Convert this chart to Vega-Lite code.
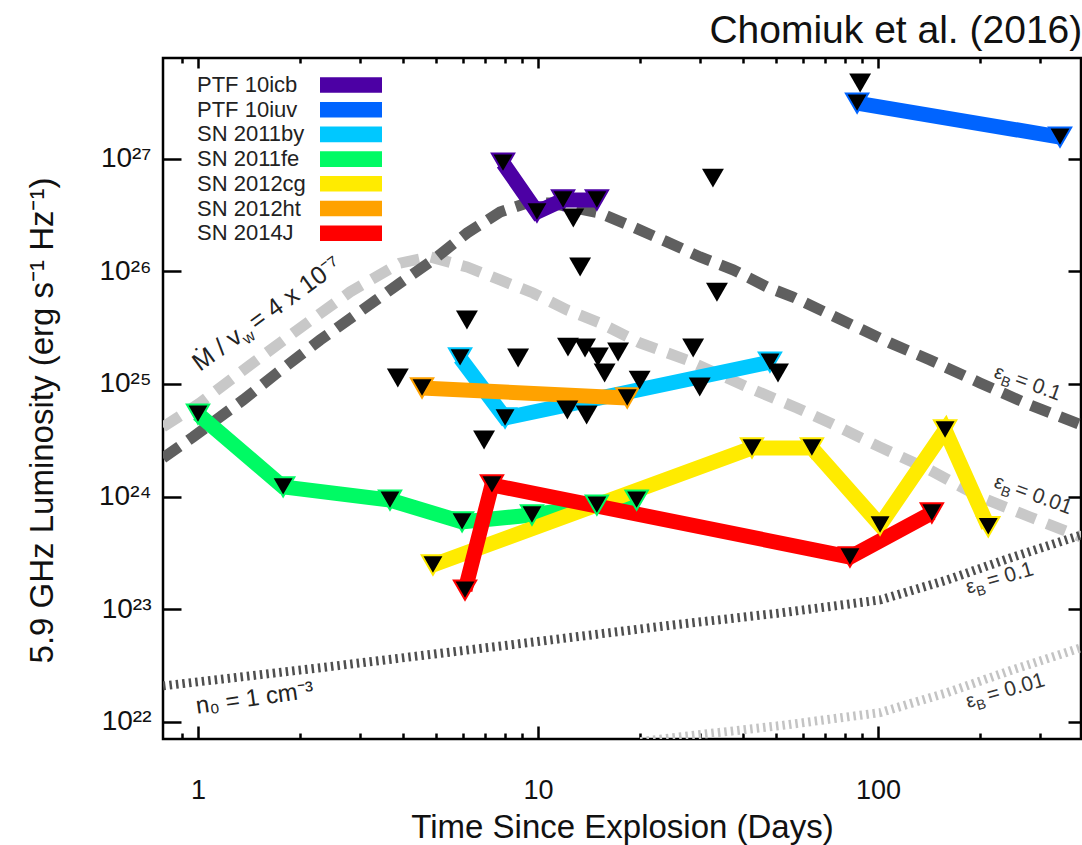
{
  "$schema": "https://vega.github.io/schema/vega-lite/v6.json",
  "width": 918,
  "height": 681,
  "autosize": {"type": "none"},
  "padding": {"left": 163, "top": 58, "right": 1, "bottom": 106},
  "background": "white",
  "config": {
    "font": "Liberation Sans",
    "view": {"stroke": "black", "strokeWidth": 2.5},
    "axis": {"grid": false, "domain": false, "tickColor": "black", "tickWidth": 2.5, "labelColor": "#111", "titleColor": "#111", "titleFontWeight": "normal", "labelFont": "Liberation Sans", "titleFont": "Liberation Sans"}
  },
  "title": {"text": "Chomiuk et al. (2016)", "anchor": "end", "fontSize": 39, "fontWeight": "normal", "color": "#111", "offset": 6, "font": "Liberation Sans"},
  "datasets": {
    "series": [
      {"series": "PTF 10icb", "t": 7.89, "L": 9.1e26},
      {"series": "PTF 10icb", "t": 9.93, "L": 3.35e26},
      {"series": "PTF 10icb", "t": 11.85, "L": 4.29e26},
      {"series": "PTF 10icb", "t": 14.9, "L": 4.29e26},
      {"series": "PTF 10iuv", "t": 86.8, "L": 3.1e27},
      {"series": "PTF 10iuv", "t": 343, "L": 1.55e27},
      {"series": "SN 2011by", "t": 5.9, "L": 1.7e25},
      {"series": "SN 2011by", "t": 8.0, "L": 4.98e24},
      {"series": "SN 2011by", "t": 48.1, "L": 1.56e25},
      {"series": "SN 2011fe", "t": 1.0, "L": 5.4e24},
      {"series": "SN 2011fe", "t": 1.78, "L": 1.22e24},
      {"series": "SN 2011fe", "t": 3.67, "L": 9.3e23},
      {"series": "SN 2011fe", "t": 5.98, "L": 5.96e23},
      {"series": "SN 2011fe", "t": 9.6, "L": 6.87e23},
      {"series": "SN 2011fe", "t": 14.9, "L": 8.4e23},
      {"series": "SN 2011fe", "t": 19.5, "L": 9.3e23},
      {"series": "SN 2012cg", "t": 4.91, "L": 2.47e23},
      {"series": "SN 2012cg", "t": 42.6, "L": 2.7e24},
      {"series": "SN 2012cg", "t": 63.9, "L": 2.7e24},
      {"series": "SN 2012cg", "t": 101.4, "L": 5.6e23},
      {"series": "SN 2012cg", "t": 157.5, "L": 3.9e24},
      {"series": "SN 2012cg", "t": 211, "L": 5.4e23},
      {"series": "SN 2012ht", "t": 4.56, "L": 9.2e24},
      {"series": "SN 2012ht", "t": 18.3, "L": 7.5e24},
      {"series": "SN 2014J", "t": 6.1, "L": 1.48e23},
      {"series": "SN 2014J", "t": 7.32, "L": 1.27e24},
      {"series": "SN 2014J", "t": 82.7, "L": 2.91e23},
      {"series": "SN 2014J", "t": 144, "L": 7.15e23}
    ],
    "limits": [
      {"t": 3.87, "L": 1.13e25},
      {"t": 6.18, "L": 3.69e25},
      {"t": 8.74, "L": 1.7e25},
      {"t": 6.94, "L": 3.18e24},
      {"t": 12.25, "L": 2.12e25},
      {"t": 13.75, "L": 2.08e25},
      {"t": 15.0, "L": 1.73e25},
      {"t": 17.2, "L": 1.92e25},
      {"t": 15.7, "L": 1.25e25},
      {"t": 19.9, "L": 1.08e25},
      {"t": 28.6, "L": 2.08e25},
      {"t": 29.9, "L": 9.4e24},
      {"t": 50.8, "L": 1.25e25},
      {"t": 12.2, "L": 5.87e24},
      {"t": 13.9, "L": 5.3e24},
      {"t": 12.7, "L": 2.97e26},
      {"t": 13.3, "L": 1.09e26},
      {"t": 32.7, "L": 6.7e26},
      {"t": 33.6, "L": 6.5e25},
      {"t": 88.6, "L": 4.68e27}
    ],
    "curves": [
      {"curve": "wind01", "t": 0.789, "L": 2.2e24},
      {"curve": "wind01", "t": 0.967, "L": 3.38e24},
      {"curve": "wind01", "t": 1.356, "L": 7.19e24},
      {"curve": "wind01", "t": 1.708, "L": 1.25e25},
      {"curve": "wind01", "t": 2.285, "L": 2.45e25},
      {"curve": "wind01", "t": 3.928, "L": 7.85e25},
      {"curve": "wind01", "t": 4.912, "L": 1.256e26},
      {"curve": "wind01", "t": 6.183, "L": 2.18e26},
      {"curve": "wind01", "t": 7.732, "L": 3.35e26},
      {"curve": "wind01", "t": 9.283, "L": 4.03e26},
      {"curve": "wind01", "t": 10.85, "L": 4.03e26},
      {"curve": "wind01", "t": 15.22, "L": 3.28e26},
      {"curve": "wind01", "t": 19.03, "L": 2.47e26},
      {"curve": "wind01", "t": 23.95, "L": 1.82e26},
      {"curve": "wind01", "t": 29.96, "L": 1.34e26},
      {"curve": "wind01", "t": 37.46, "L": 1.03e26},
      {"curve": "wind01", "t": 47.16, "L": 7.24e25},
      {"curve": "wind01", "t": 56.23, "L": 5.9e25},
      {"curve": "wind01", "t": 108.5, "L": 2.31e25},
      {"curve": "wind01", "t": 142.2, "L": 1.63e25},
      {"curve": "wind01", "t": 199.5, "L": 1.02e25},
      {"curve": "wind01", "t": 280.0, "L": 6.5e24},
      {"curve": "wind01", "t": 395.4, "L": 4.32e24},
      {"curve": "wind001", "t": 0.789, "L": 4.15e24},
      {"curve": "wind001", "t": 1.014, "L": 6.77e24},
      {"curve": "wind001", "t": 1.422, "L": 1.47e25},
      {"curve": "wind001", "t": 1.995, "L": 3.13e25},
      {"curve": "wind001", "t": 2.8, "L": 6.54e25},
      {"curve": "wind001", "t": 3.928, "L": 1.18e26},
      {"curve": "wind001", "t": 4.81, "L": 1.34e26},
      {"curve": "wind001", "t": 6.183, "L": 1.09e26},
      {"curve": "wind001", "t": 7.732, "L": 8.36e25},
      {"curve": "wind001", "t": 9.67, "L": 6.41e25},
      {"curve": "wind001", "t": 12.17, "L": 4.53e25},
      {"curve": "wind001", "t": 15.22, "L": 3.47e25},
      {"curve": "wind001", "t": 19.95, "L": 2.31e25},
      {"curve": "wind001", "t": 27.43, "L": 1.63e25},
      {"curve": "wind001", "t": 41.18, "L": 9.39e24},
      {"curve": "wind001", "t": 57.8, "L": 6.11e24},
      {"curve": "wind001", "t": 72.3, "L": 4.5e24},
      {"curve": "wind001", "t": 101.4, "L": 2.75e24},
      {"curve": "wind001", "t": 142.2, "L": 1.72e24},
      {"curve": "wind001", "t": 199.5, "L": 9.92e23},
      {"curve": "wind001", "t": 280.0, "L": 6.59e23},
      {"curve": "wind001", "t": 395.4, "L": 4.38e23},
      {"curve": "ism01", "t": 0.789, "L": 2.09e22},
      {"curve": "ism01", "t": 2.395, "L": 3.08e22},
      {"curve": "ism01", "t": 7.37, "L": 4.63e22},
      {"curve": "ism01", "t": 24.95, "L": 7.26e22},
      {"curve": "ism01", "t": 51.5, "L": 9.27e22},
      {"curve": "ism01", "t": 101.4, "L": 1.21e23},
      {"curve": "ism01", "t": 159.6, "L": 1.82e23},
      {"curve": "ism01", "t": 249.5, "L": 2.91e23},
      {"curve": "ism01", "t": 395.4, "L": 4.56e23},
      {"curve": "ism001", "t": 20.0, "L": 6.69e21},
      {"curve": "ism001", "t": 24.95, "L": 7.26e21},
      {"curve": "ism001", "t": 51.5, "L": 9.27e21},
      {"curve": "ism001", "t": 101.4, "L": 1.21e22},
      {"curve": "ism001", "t": 159.6, "L": 1.82e22},
      {"curve": "ism001", "t": 249.5, "L": 2.91e22},
      {"curve": "ism001", "t": 395.4, "L": 4.56e22}
    ],
    "eps": [
      {"kind": "dashed", "t": 217.9, "L": 1.15e25, "val": "= 0.1"},
      {"kind": "dashed", "t": 217.9, "L": 1.22e24, "val": "= 0.01"},
      {"kind": "dotted", "t": 184, "L": 1.37e23, "val": "= 0.1"},
      {"kind": "dotted", "t": 184, "L": 1.33e22, "val": "= 0.01"}
    ],
    "mdot": [{"t": 1.0136, "L": 1.276e25}],
    "n0": [{"t": 0.993, "L": 1.18e22, "label": "n₀ = 1 cm⁻³"}]
  },
  "encoding": {
    "x": {"field": "t", "type": "quantitative", "scale": {"type": "log", "domain": [0.789, 395.4], "nice": false}, "axis": null},
    "y": {"field": "L", "type": "quantitative", "scale": {"type": "log", "domain": [7.06e21, 7.8e27], "nice": false}, "axis": null}
  },
  "layer": [
    {
      "data": {"name": "curves"},
      "transform": [{"filter": "datum.curve == 'wind001'"}],
      "mark": {"type": "line", "color": "#C8C8C8", "strokeWidth": 11, "strokeDash": [20, 12], "clip": true},
      "encoding": {
        "x": {"field": "t", "type": "quantitative", "scale": {"type": "log", "domain": [0.789, 395.4], "nice": false},
          "axis": {"orient": "bottom", "values": [1, 10, 100], "format": "d", "ticks": false, "labelFontSize": 27, "labelPadding": 38, "title": "Time Since Explosion (Days)", "titleFontSize": 33, "titleBaseline": "alphabetic", "titleY": 98}},
        "y": {"field": "L", "type": "quantitative", "scale": {"type": "log", "domain": [7.06e21, 7.8e27], "nice": false},
          "axis": {"orient": "left", "values": [1e22, 1e23, 1e24, 1e25, 1e26, 1e27], "ticks": false, "labelFontSize": 28, "labelPadding": 12,
            "labelExpr": "datum.value == 1e22 ? '10²²' : datum.value == 1e23 ? '10²³' : datum.value == 1e24 ? '10²⁴' : datum.value == 1e25 ? '10²⁵' : datum.value == 1e26 ? '10²⁶' : '10²⁷'",
            "title": "5.9 GHz Luminosity (erg s⁻¹ Hz⁻¹)", "titleFontSize": 33, "titleAngle": -90, "titleBaseline": "middle", "titleAlign": "center", "titleX": -121, "titleY": 362}}
      }
    },
    {
      "data": {"name": "curves"},
      "transform": [{"filter": "datum.curve == 'wind01'"}],
      "mark": {"type": "line", "color": "#5F5F5F", "strokeWidth": 11, "strokeDash": [20, 11], "clip": true},
      "encoding": {
        "x": {"field": "t", "type": "quantitative", "scale": {"type": "log", "domain": [0.789, 395.4], "nice": false},
          "axis": {"orient": "bottom", "values": [1, 10, 100], "labels": false, "tickSize": -13, "title": null}},
        "y": {"field": "L", "type": "quantitative", "scale": {"type": "log", "domain": [7.06e21, 7.8e27], "nice": false},
          "axis": {"orient": "left", "values": [1e22, 1e23, 1e24, 1e25, 1e26, 1e27], "labels": false, "tickSize": -18, "title": null}}
      }
    },
    {
      "data": {"name": "curves"},
      "transform": [{"filter": "datum.curve == 'ism01'"}],
      "mark": {"type": "line", "color": "#4F4F4F", "strokeWidth": 9, "strokeDash": [2.5, 4], "clip": true},
      "encoding": {
        "x": {"field": "t", "type": "quantitative", "scale": {"type": "log", "domain": [0.789, 395.4], "nice": false},
          "axis": {"orient": "bottom", "values": [0.9, 2, 3, 4, 5, 6, 7, 8, 9, 20, 30, 40, 50, 60, 70, 80, 90, 200, 300], "labels": false, "tickSize": -6, "title": null}},
        "y": {"field": "L", "type": "quantitative", "scale": {"type": "log", "domain": [7.06e21, 7.8e27], "nice": false},
          "axis": {"orient": "right", "values": [1e22, 1e23, 1e24, 1e25, 1e26, 1e27], "labels": false, "tickSize": -13, "title": null}}
      }
    },
    {
      "data": {"name": "curves"},
      "transform": [{"filter": "datum.curve == 'ism001'"}],
      "mark": {"type": "line", "color": "#C4C4C4", "strokeWidth": 9, "strokeDash": [2.5, 4], "clip": true},
      "encoding": {
        "x": {"field": "t", "type": "quantitative", "scale": {"type": "log", "domain": [0.789, 395.4], "nice": false},
          "axis": {"orient": "top", "values": [1, 10, 100], "labels": false, "tickSize": -10, "title": null}}
      }
    },
    {
      "data": {"name": "series"},
      "mark": {"type": "line", "strokeWidth": 15, "strokeCap": "butt", "strokeJoin": "miter", "clip": true},
      "encoding": {
        "x": {"field": "t", "type": "quantitative", "scale": {"type": "log", "domain": [0.789, 395.4], "nice": false},
          "axis": {"orient": "top", "values": [0.9, 2, 3, 4, 5, 6, 7, 8, 9, 20, 30, 40, 50, 60, 70, 80, 90, 200, 300], "labels": false, "tickSize": -5, "title": null}},
        "color": {"field": "series", "type": "nominal",
          "scale": {"domain": ["PTF 10icb", "PTF 10iuv", "SN 2011by", "SN 2011fe", "SN 2012cg", "SN 2012ht", "SN 2014J"], "range": ["#4C00A4", "#0064FF", "#00C8FF", "#00FA64", "#FFEB00", "#FFA200", "#FF0000"]},
          "legend": {"orient": "none", "legendX": 30, "legendY": 16, "direction": "vertical", "title": null,
            "symbolType": "M-31,-7H31M-31,-6H31M-31,-5H31M-31,-4H31M-31,-3H31M-31,-2H31M-31,-1H31M-31,0H31M-31,1H31M-31,2H31M-31,3H31M-31,4H31M-31,5H31M-31,6H31M-31,7H31",
            "symbolSize": 4, "symbolStrokeWidth": 1.6, "labelFontSize": 22, "labelColor": "#222", "labelFont": "Liberation Sans", "labelOffset": -165, "symbolOffset": 147, "rowPadding": 2.7, "padding": 0}}
      }
    },
    {
      "data": {"name": "series"},
      "mark": {"type": "point", "shape": "triangle-down", "filled": true, "fill": "black", "size": 500, "strokeWidth": 2, "opacity": 1, "clip": true},
      "encoding": {
        "stroke": {"field": "series", "type": "nominal",
          "scale": {"domain": ["PTF 10icb", "PTF 10iuv", "SN 2011by", "SN 2011fe", "SN 2012cg", "SN 2012ht", "SN 2014J"], "range": ["#4C00A4", "#0064FF", "#00C8FF", "#00FA64", "#FFEB00", "#FFA200", "#FF0000"]},
          "legend": null}
      }
    },
    {
      "data": {"name": "limits"},
      "mark": {"type": "point", "shape": "triangle-down", "filled": true, "fill": "black", "size": 480, "opacity": 1, "clip": true}
    },
    {
      "data": {"name": "eps"},
      "transform": [{"filter": "datum.kind == 'dashed'"}],
      "mark": {"type": "text", "text": "ε", "fontSize": 20, "angle": 20, "align": "left", "baseline": "alphabetic", "color": "#333"}
    },
    {
      "data": {"name": "eps"},
      "transform": [{"filter": "datum.kind == 'dashed'"}],
      "mark": {"type": "text", "text": "B", "fontSize": 14, "angle": 20, "align": "left", "baseline": "alphabetic", "dx": 9, "dy": 5, "color": "#333"}
    },
    {
      "data": {"name": "eps"},
      "transform": [{"filter": "datum.kind == 'dashed'"}],
      "mark": {"type": "text", "fontSize": 21, "angle": 20, "align": "left", "baseline": "alphabetic", "dx": 22, "color": "#333"},
      "encoding": {"text": {"field": "val"}}
    },
    {
      "data": {"name": "eps"},
      "transform": [{"filter": "datum.kind == 'dotted'"}],
      "mark": {"type": "text", "text": "ε", "fontSize": 20, "angle": -16, "align": "left", "baseline": "alphabetic", "color": "#333"}
    },
    {
      "data": {"name": "eps"},
      "transform": [{"filter": "datum.kind == 'dotted'"}],
      "mark": {"type": "text", "text": "B", "fontSize": 14, "angle": -16, "align": "left", "baseline": "alphabetic", "dx": 9, "dy": 5, "color": "#333"}
    },
    {
      "data": {"name": "eps"},
      "transform": [{"filter": "datum.kind == 'dotted'"}],
      "mark": {"type": "text", "fontSize": 21, "angle": -16, "align": "left", "baseline": "alphabetic", "dx": 22, "color": "#333"},
      "encoding": {"text": {"field": "val"}}
    },
    {
      "data": {"name": "mdot"},
      "mark": {"type": "text", "text": "Ṁ / v", "fontSize": 25, "angle": -36, "align": "left", "baseline": "alphabetic", "color": "#222"}
    },
    {
      "data": {"name": "mdot"},
      "mark": {"type": "text", "text": "w", "fontSize": 16, "angle": -36, "align": "left", "baseline": "alphabetic", "dx": 54, "dy": 6, "color": "#222"}
    },
    {
      "data": {"name": "mdot"},
      "mark": {"type": "text", "text": "= 4 x 10⁻⁷", "fontSize": 25, "angle": -36, "align": "left", "baseline": "alphabetic", "dx": 70, "color": "#222"}
    },
    {
      "data": {"name": "n0"},
      "mark": {"type": "text", "fontSize": 24, "angle": -8, "align": "left", "baseline": "alphabetic", "color": "#222"},
      "encoding": {"text": {"field": "label"}}
    }
  ],
  "resolve": {"axis": {"x": "independent", "y": "independent"}}
}
